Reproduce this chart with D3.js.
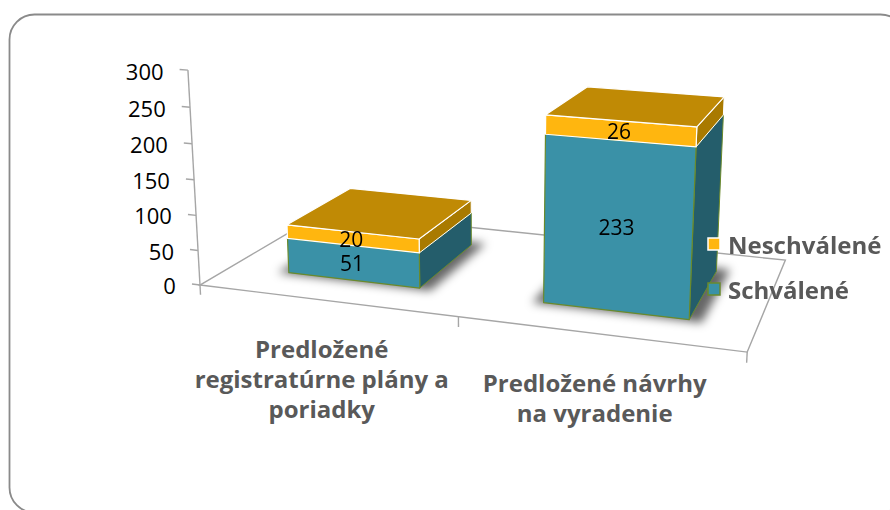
<!DOCTYPE html>
<html>
<head>
<meta charset="utf-8">
<script src="https://cdn.jsdelivr.net/npm/d3@7"></script>
<style>
  body { margin: 0; background: #fff; }
  svg { display: block; }
  text { font-family: "Open Sans", sans-serif; }
</style>
</head>
<body>
<div id="chart"></div>
<script>
// data
var categories = ['Predložené registratúrne plány a poriadky', 'Predložené návrhy na vyradenie']
var categoryLines = [['Predložené', 'registratúrne plány a', 'poriadky'], ['Predložené návrhy', 'na vyradenie']]
var seriesNames = ['Schválené', 'Neschválené']
var schvalene = [51, 233]
var neschvalene = [20, 26]
var valueTicks = [0, 50, 100, 150, 200, 250, 300]

var width = 890
var height = 510

// 3d box (world units) and camera
var floorWidth = 427
var floorDepth = 207
var cam = { yaw: 14.67, pitch: 13.8, roll: 1.3, f: 1291, cx: 606, cy: 146, t: [-314.5, 107.7, 1000] }

var rad = Math.PI / 180
var ca = Math.cos(cam.yaw * rad), sa = Math.sin(cam.yaw * rad)
var cb = Math.cos(cam.pitch * rad), sb = Math.sin(cam.pitch * rad)
var cr = Math.cos(cam.roll * rad), sr = Math.sin(cam.roll * rad)

function project(p) {
  var X = p[0], Y = p[1], Z = p[2]
  var x1 = X * ca + Z * sa
  var z1 = -X * sa + Z * ca
  var yc = -Y * cb - z1 * sb
  var zc = z1 * cb - Y * sb
  var xr = x1 * cr - yc * sr
  var yr = x1 * sr + yc * cr
  var x3 = xr + cam.t[0], y3 = yr + cam.t[1], z3 = zc + cam.t[2]
  return [cam.cx + cam.f * x3 / z3, cam.cy + cam.f * y3 / z3]
}

var xScale = d3.scaleBand()
  .domain(categories)
  .range([0, floorWidth])
  .paddingInner(0.473)
  .paddingOuter(0.2365)

var yScale = d3.scaleLinear()
  .domain([0, 300])
  .range([0, 169])

var colors = {
  'Schválené': { front: '#3a91a7', side: '#245d6b', top: '#2f7d91', stroke: '#6a8a2c' },
  'Neschválené': { front: '#ffb60f', side: '#a97a00', top: '#c08a05', stroke: '#ffffff' }
}

var line = d3.line()
function poly(pts) { return line(pts.map(project)) + 'Z' }

var svg = d3.select('#chart').append('svg')
  .attr('width', width)
  .attr('height', height)

var defs = svg.append('defs')
defs.append('filter')
  .attr('id', 'shadow')
  .attr('x', '-50%').attr('y', '-50%').attr('width', '200%').attr('height', '200%')
  .append('feGaussianBlur')
  .attr('stdDeviation', 5)

// outer frame
svg.append('rect')
  .attr('x', 9.5)
  .attr('y', 14.5)
  .attr('width', 896)
  .attr('height', 498)
  .attr('rx', 25)
  .attr('fill', 'none')
  .attr('stroke', '#8a8a8a')
  .attr('stroke-width', 1.8)

var gridColor = '#a6a6a6'

// floor outline
svg.append('path')
  .attr('d', poly([[0, 0, 0], [floorWidth, 0, 0], [floorWidth, 0, floorDepth], [0, 0, floorDepth]]))
  .attr('fill', 'none')
  .attr('stroke', gridColor)
  .attr('stroke-width', 1.4)

// value axis
svg.append('path')
  .attr('d', line([[0, 0, 0], [0, yScale(300), 0]].map(project)))
  .attr('stroke', gridColor)
  .attr('stroke-width', 1.4)

var gAxis = svg.append('g')
valueTicks.forEach(function (v) {
  var a = project([0, yScale(v), 0])
  var b = project([-7, yScale(v), 0])
  gAxis.append('line')
    .attr('x1', a[0]).attr('y1', a[1])
    .attr('x2', b[0]).attr('y2', b[1])
    .attr('stroke', gridColor)
    .attr('stroke-width', 1.4)
  gAxis.append('text')
    .attr('x', b[0] - 16)
    .attr('y', b[1] + 1)
    .attr('text-anchor', 'end')
    .attr('dominant-baseline', 'central')
    .attr('font-size', 22)
    .attr('fill', '#000')
    .text(v)
})

// category ticks
var catTicks = [0, xScale.step(), floorWidth]
catTicks.forEach(function (x) {
  var a = project([x, 0, 0])
  var b = project([x, -8, 0])
  svg.append('line')
    .attr('x1', a[0]).attr('y1', a[1])
    .attr('x2', b[0]).attr('y2', b[1])
    .attr('stroke', gridColor)
    .attr('stroke-width', 1.4)
})

// category labels
categories.forEach(function (c, i) {
  var p = project([xScale(c) + xScale.bandwidth() / 2, 0, 0])
  var t = svg.append('text')
    .attr('text-anchor', 'middle')
    .attr('font-size', 24)
    .attr('font-weight', 'bold')
    .attr('fill', '#595959')
  categoryLines[i].forEach(function (s, j) {
    t.append('tspan')
      .attr('x', p[0] - 4)
      .attr('y', p[1] + 58 + j * 30)
      .text(s)
  })
})

// stacked bars
var rows = categories.map(function (c, i) {
  return { cat: c, 'Schválené': schvalene[i], 'Neschválené': neschvalene[i] }
})
var stack = d3.stack().keys(seriesNames)(rows)

var barDepth = xScale.bandwidth()
var z0 = (floorDepth - barDepth) / 2
var z1 = z0 + barDepth

// shadows on the floor
var gShadow = svg.append('g').attr('filter', 'url(#shadow)')
categories.forEach(function (c) {
  var x0 = xScale(c) - 8, x1 = xScale(c) + xScale.bandwidth() + 10
  gShadow.append('path')
    .attr('d', poly([[x0, 0, z0 - 3], [x1, 0, z0 - 3], [x1, 0, z1 + 8], [x0, 0, z1 + 8]]))
    .attr('fill', '#000')
    .attr('opacity', 0.6)
})

var gBars = svg.append('g')
categories.forEach(function (c, i) {
  var x0 = xScale(c), x1 = xScale(c) + xScale.bandwidth()
  stack.forEach(function (s, k) {
    var col = colors[s.key]
    var yb = yScale(s[i][0]), yt = yScale(s[i][1])
    var isTop = k === stack.length - 1
    // right side
    gBars.append('path')
      .attr('d', poly([[x1, yb, z0], [x1, yb, z1], [x1, yt, z1], [x1, yt, z0]]))
      .attr('fill', col.side)
      .attr('stroke', col.stroke)
      .attr('stroke-width', 1)
      .attr('stroke-linejoin', 'round')
    // front
    gBars.append('path')
      .attr('d', poly([[x0, yb, z0], [x1, yb, z0], [x1, yt, z0], [x0, yt, z0]]))
      .attr('fill', col.front)
      .attr('stroke', col.stroke)
      .attr('stroke-width', 1.2)
      .attr('stroke-linejoin', 'round')
    if (isTop) {
      gBars.append('path')
        .attr('d', poly([[x0, yt, z0], [x1, yt, z0], [x1, yt, z1], [x0, yt, z1]]))
        .attr('fill', col.top)
        .attr('stroke', col.stroke)
        .attr('stroke-width', 1.2)
        .attr('stroke-linejoin', 'round')
    }
  })
})

// data labels
var gLabels = svg.append('g')
categories.forEach(function (c, i) {
  var xm = xScale(c) + xScale.bandwidth() / 2
  stack.forEach(function (s) {
    var p = project([xm, yScale((s[i][0] + s[i][1]) / 2), z0])
    gLabels.append('text')
      .attr('x', p[0] - 1)
      .attr('y', p[1])
      .attr('text-anchor', 'middle')
      .attr('dominant-baseline', 'central')
      .attr('font-size', 21)
      .attr('fill', '#000')
      .text(s[i][1] - s[i][0])
  })
})

// legend
var legend = svg.append('g').attr('transform', 'translate(708, 244)')
var legendItems = seriesNames.slice().reverse()
legendItems.forEach(function (name, i) {
  var g = legend.append('g').attr('transform', 'translate(0,' + i * 45 + ')')
  g.append('rect')
    .attr('x', 0)
    .attr('y', -6)
    .attr('width', 12)
    .attr('height', 12)
    .attr('fill', colors[name].front)
    .attr('stroke', name === 'Schválené' ? '#6a8a2c' : '#ffffff')
    .attr('stroke-width', 1.5)
  g.append('text')
    .attr('x', 20)
    .attr('y', 0)
    .attr('dominant-baseline', 'central')
    .attr('font-size', 24)
    .attr('font-weight', 'bold')
    .attr('fill', '#595959')
    .text(name)
})
</script>
</body>
</html>
